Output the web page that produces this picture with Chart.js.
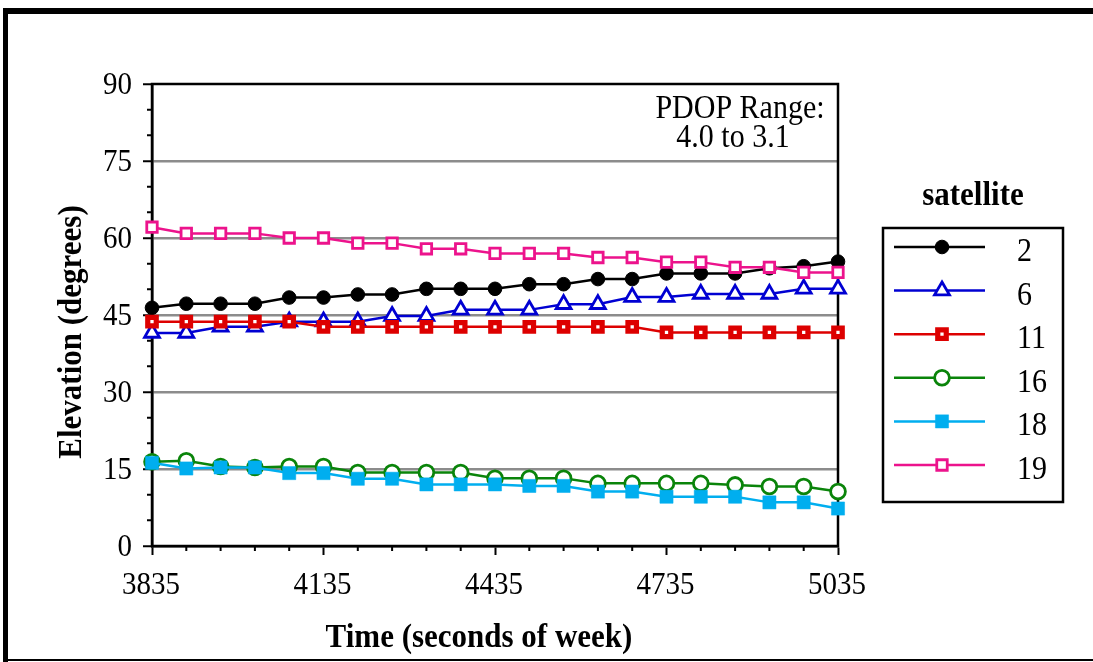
<!DOCTYPE html>
<html><head><meta charset="utf-8">
<script src="https://cdn.jsdelivr.net/npm/chart.js@4.4.1/dist/chart.umd.min.js"></script>
<style>html,body{margin:0;padding:0;background:#fff;overflow:hidden}canvas{display:block}</style>
</head><body>
<canvas id="c" width="1093" height="662"></canvas>
<script>
// ---- data ----
const times = [3835,3895,3955,4015,4075,4135,4195,4255,4315,4375,4435,4495,4555,4615,4675,4735,4795,4855,4915,4975,5035];
const xTickLabels = [3835,4135,4435,4735,5035];
const yTickLabels = [0,15,30,45,60,75,90];
const satNames = ['2','6','11','16','18','19'];
const sat2  = [46.4,47.2,47.2,47.2,48.4,48.4,49.0,49.0,50.1,50.1,50.1,51.0,51.0,52.0,52.0,53.1,53.1,53.1,54.1,54.5,55.4];
const sat6  = [41.5,41.5,42.7,42.7,43.7,43.7,43.7,44.8,44.8,46.0,46.0,46.0,47.1,47.1,48.5,48.5,49.1,49.1,49.1,50.1,50.1];
const sat11 = [43.7,43.7,43.7,43.7,43.7,42.7,42.7,42.7,42.7,42.7,42.7,42.7,42.7,42.7,42.7,41.6,41.6,41.6,41.6,41.6,41.6];
const sat16 = [16.4,16.6,15.5,15.3,15.5,15.5,14.3,14.3,14.3,14.3,13.2,13.2,13.2,12.2,12.2,12.2,12.2,11.9,11.6,11.6,10.6];
const sat18 = [16.2,15.1,15.3,15.3,14.2,14.2,13.1,13.1,12.0,12.0,12.0,11.7,11.7,10.6,10.6,9.6,9.6,9.6,8.5,8.5,7.3];
const sat19 = [62.1,60.9,60.9,60.9,60.0,60.0,59.0,59.0,57.9,57.9,57.0,57.0,57.0,56.2,56.2,55.3,55.3,54.3,54.3,53.3,53.3];
const annotationLines = ['PDOP Range:', '4.0 to 3.1'];
const xTitle = 'Time (seconds of week)';
const yTitle = 'Elevation (degrees)';
const legendTitle = 'satellite';

// ---- styles ----
const seriesValues = [sat2, sat6, sat11, sat16, sat18, sat19];
const styles = [
  {line:'#000000', style:'circle',   r:6.8, bg:'#000000', bc:'#000000', bw:1},
  {line:'#0000d2', style:'triangle', r:8.6, bg:'#ffffff', bc:'#0000d2', bw:2.8},
  {line:'#dd0000', style:'rect',     r:6,   bg:'#ffffff', bc:'#dd0000', bw:5.2},
  {line:'#0a840a', style:'circle',   r:7.4, bg:'#ffffff', bc:'#0a840a', bw:2.8},
  {line:'#00aeef', style:'rect',     r:9.3, bg:'#00aeef', bc:'#00aeef', bw:0.5},
  {line:'#ec138c', style:'rect',     r:7.4, bg:'#ffffff', bc:'#ec138c', bw:2.8}
];

const SERIF = '"Liberation Serif","Times New Roman",Times,serif';
const STRETCH = 1.1;

const datasets = seriesValues.map((vals, i) => ({
  label: satNames[i],
  data: vals.map((v, j) => ({x: times[j], y: v})),
  borderColor: styles[i].line,
  borderWidth: 2.5,
  backgroundColor: styles[i].bg,
  pointStyle: styles[i].style,
  pointRadius: styles[i].r,
  pointHoverRadius: styles[i].r,
  pointBackgroundColor: styles[i].bg,
  pointBorderColor: styles[i].bc,
  pointBorderWidth: styles[i].bw,
  tension: 0,
  fill: false,
  clip: false,
  order: seriesValues.length - 1 - i
}));

function sText(ctx, text, x, y, align, baseline, rotate) {
  ctx.save();
  ctx.translate(x, y);
  if (rotate) ctx.rotate(-Math.PI / 2);
  ctx.scale(1, STRETCH);
  ctx.textAlign = align;
  ctx.textBaseline = baseline;
  ctx.fillText(text, 0, 0);
  ctx.restore();
}

const decor = {
  id: 'decor',
  beforeDraw(chart) {
    const ctx = chart.ctx;
    ctx.save();
    ctx.fillStyle = '#fff';
    ctx.fillRect(0, 0, chart.width, chart.height);
    ctx.fillStyle = '#000';
    ctx.fillRect(3, 8, chart.width - 3, 6);   // top bar
    ctx.fillRect(3, 8, 5, chart.height - 8);  // left bar
    ctx.fillRect(3, 659, chart.width - 3, 2); // bottom line
    ctx.restore();
  },
  beforeDatasetsDraw(chart) {
    const ctx = chart.ctx, a = chart.chartArea;
    const xs = chart.scales.x, ys = chart.scales.y;
    ctx.save();
    ctx.strokeStyle = '#000';
    ctx.lineWidth = 2.5;
    ctx.strokeRect(a.left, a.top, a.right - a.left, a.bottom - a.top);
    // minor ticks
    ctx.lineWidth = 2;
    ctx.beginPath();
    for (let v = xs.min; v <= xs.max; v += 60) {
      if ((v - xs.min) % 300 === 0) continue;
      const px = xs.getPixelForValue(v);
      ctx.moveTo(px, a.bottom); ctx.lineTo(px, a.bottom + 5);
    }
    for (let v = ys.min; v <= ys.max; v += 5) {
      if (v % 15 === 0) continue;
      const py = ys.getPixelForValue(v);
      ctx.moveTo(a.left - 5, py); ctx.lineTo(a.left, py);
    }
    ctx.stroke();
    // tick labels
    ctx.fillStyle = '#000';
    ctx.font = '29px ' + SERIF;
    xTickLabels.forEach(v => sText(ctx, String(v), xs.getPixelForValue(v) - 1, 586, 'center', 'middle'));
    yTickLabels.forEach(v => sText(ctx, String(v), a.left - 20, ys.getPixelForValue(v) + 2, 'right', 'middle'));
    ctx.restore();
  },
  afterDraw(chart) {
    const ctx = chart.ctx, a = chart.chartArea;
    const H = Chart.helpers;
    ctx.save();
    ctx.fillStyle = '#000';
    // annotation
    ctx.font = '30px ' + SERIF;
    sText(ctx, annotationLines[0], a.right - 98, a.top + 34, 'center', 'alphabetic');
    sText(ctx, annotationLines[1], a.right - 105, a.top + 63, 'center', 'alphabetic');
    // axis titles
    ctx.font = 'bold 31px ' + SERIF;
    sText(ctx, xTitle, (a.left + a.right) / 2 - 16, 647, 'center', 'alphabetic');
    sText(ctx, yTitle, 81, (a.top + a.bottom) / 2 + 17, 'center', 'alphabetic', true);
    // legend
    const bx = 883, by = 228, bw = 180, bh = 274;
    sText(ctx, legendTitle, bx + bw / 2, 205, 'center', 'alphabetic');
    ctx.lineWidth = 2.5;
    ctx.strokeStyle = '#000';
    ctx.strokeRect(bx, by, bw, bh);
    ctx.font = '30px ' + SERIF;
    chart.data.datasets.forEach((ds, i) => {
      const y = 247 + i * 43.6;
      ctx.strokeStyle = ds.borderColor;
      ctx.lineWidth = 2.5;
      ctx.beginPath(); ctx.moveTo(894, y); ctx.lineTo(985, y); ctx.stroke();
      ctx.fillStyle = ds.pointBackgroundColor;
      ctx.strokeStyle = ds.pointBorderColor;
      ctx.lineWidth = ds.pointBorderWidth;
      if (H && H.drawPoint) {
        H.drawPoint(ctx, {pointStyle: ds.pointStyle, radius: ds.pointRadius, rotation: 0, borderWidth: ds.pointBorderWidth}, 942, y);
      }
      ctx.fillStyle = '#000';
      sText(ctx, ds.label, 1017, y + 14, 'left', 'alphabetic');
    });
    ctx.restore();
  }
};

new Chart(document.getElementById('c'), {
  type: 'line',
  data: { datasets },
  options: {
    responsive: false,
    devicePixelRatio: 1,
    animation: false,
    events: [],
    layout: { padding: { left: 0, top: 84, right: 255, bottom: 0 } },
    plugins: { legend: { display: false }, tooltip: { enabled: false }, title: { display: false } },
    scales: {
      x: {
        type: 'linear',
        min: times[0],
        max: times[times.length - 1],
        afterBuildTicks(scale) { scale.ticks = xTickLabels.map(v => ({value: v})); },
        afterFit(scale) { scale.height = 116; },
        grid: { drawOnChartArea: false, drawTicks: true, tickLength: 9, tickColor: '#000', tickWidth: 2 },
        border: { display: true, color: '#000', width: 2.5 },
        ticks: { display: false }
      },
      y: {
        type: 'linear',
        min: yTickLabels[0],
        max: yTickLabels[yTickLabels.length - 1],
        afterBuildTicks(scale) { scale.ticks = yTickLabels.map(v => ({value: v})); },
        afterFit(scale) { scale.width = 152; },
        grid: {
          color: c => (c.tick && (c.tick.value === 0 || c.tick.value === 90)) ? 'rgba(0,0,0,0)' : '#8c8c8c',
          lineWidth: 2.5, drawTicks: true, tickLength: 9, tickColor: '#000', tickWidth: 2
        },
        border: { display: true, color: '#000', width: 2.5 },
        ticks: { display: false }
      }
    }
  },
  plugins: [decor]
});
</script>
</body></html>
